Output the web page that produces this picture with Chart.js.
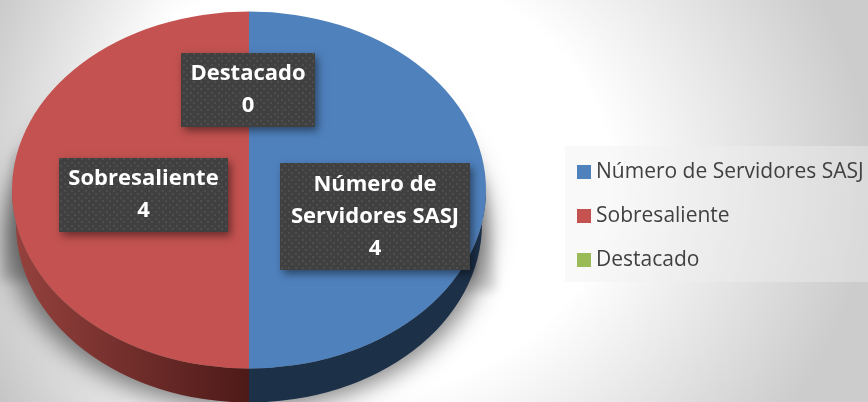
<!DOCTYPE html>
<html>
<head>
<meta charset="utf-8">
<script src="https://cdn.jsdelivr.net/npm/chart.js@4"></script>
<style>
    html, body { margin: 0; padding: 0; }
    body {
        width: 868px;
        height: 402px;
        overflow: hidden;
        position: relative;
        background:
            linear-gradient(to right, rgba(0, 0, 0, 0.1), rgba(0, 0, 0, 0) 170px),
            radial-gradient(ellipse 520px 430px at 350px 180px, #ffffff 50%, #cccccc 100%);
    }
    #wrap { position: absolute; left: 0; top: 0; width: 868px; height: 402px; }
    #legend {
        position: absolute;
        left: 565px;
        top: 146px;
        width: 303px;
        height: 136px;
        background: rgba(240, 240, 240, 0.4);
        font: 21px 'Open Sans', sans-serif;
        color: #404040;
    }
    .item { position: absolute; left: 12px; white-space: nowrap; line-height: 28px; }
    .box { display: inline-block; width: 14px; height: 14px; margin-right: 5px; vertical-align: -1px; }
</style>
</head>
<body>
<div id="wrap"><canvas id="chart" width="868" height="402"></canvas></div>
<div id="legend"></div>
<script>
const categories = ['Número de Servidores SASJ', 'Sobresaliente', 'Destacado'];
const values = [4, 4, 0];
const colors = ['#4f81bd', '#c35250', '#9bbb59'];
const wallColors = [['#1c3048', '#1c3048'], ['#4d1a18', '#96423e']];
const labelLines = [['Número de', 'Servidores SASJ'], ['Sobresaliente'], ['Destacado']];
const labelBoxes = [
    { x: 280, y: 163, w: 190, h: 107 },
    { x: 59, y: 158, w: 169, h: 74 },
    { x: 181, y: 53, w: 134, h: 74 }
];

const RX = 237;
const RY = 178.5;
const DEPTH = 34;

function dotPattern(ctx) {
    const c = document.createElement('canvas');
    c.width = 7;
    c.height = 7;
    const p = c.getContext('2d');
    p.fillStyle = '#404040';
    p.fillRect(0, 0, 7, 7);
    p.fillStyle = '#4e4e4e';
    p.fillRect(1, 1, 2, 2);
    p.fillRect(4, 4, 2, 2);
    return ctx.createPattern(c, 'repeat');
}

// soft shadow only, the shape itself is drawn off the canvas
function drawPieShadow(ctx, cx, cy) {
    const away = 2000;

    ctx.save();
    ctx.shadowColor = 'rgba(0, 0, 0, 0.5)';
    ctx.shadowBlur = 24;
    ctx.shadowOffsetX = away;
    ctx.fillStyle = '#000';
    ctx.beginPath();
    ctx.ellipse(cx - away - 2, cy + DEPTH + 6, RX + 4, RY, 0, 0, Math.PI * 2);
    ctx.fill();

    ctx.shadowColor = 'rgba(0, 0, 0, 0.16)';
    ctx.shadowBlur = 12;
    ctx.beginPath();
    ctx.moveTo(cx - away - RX + 4, cy - 40);
    ctx.lineTo(cx - away - RX - 12, cy + 90);
    ctx.lineTo(cx - away, cy + 90);
    ctx.closePath();
    ctx.moveTo(cx - away + RX - 2, cy - 10);
    ctx.lineTo(cx - away + RX + 10, cy + 100);
    ctx.lineTo(cx - away, cy + 100);
    ctx.closePath();
    ctx.fill();
    ctx.restore();
}

// flatten the pie and give it a side wall
const tiltPlugin = {
    id: 'tilt',
    beforeDatasetsDraw(chart) {
        const { ctx } = chart;
        const arcs = chart.getDatasetMeta(0).data;
        const { x: cx, y: cy } = arcs[0].getProps(['x', 'y']);

        drawPieShadow(ctx, cx, cy);

        arcs.forEach((arc, i) => {
            if (!values[i] || !wallColors[i])
                return;

            const { startAngle, endAngle } = arc.getProps(['startAngle', 'endAngle']);
            const from = Math.max(startAngle, 0);
            const to = Math.min(endAngle, Math.PI);

            const grad = ctx.createLinearGradient(cx, 0, i === 0 ? cx + RX : cx - RX, 0);
            grad.addColorStop(0, wallColors[i][0]);
            grad.addColorStop(1, wallColors[i][1]);

            ctx.fillStyle = grad;
            ctx.beginPath();
            ctx.ellipse(cx, cy, RX, RY, 0, from, to);
            ctx.ellipse(cx, cy + DEPTH, RX - 4, RY, 0, to, from, true);
            ctx.closePath();
            ctx.fill();
        });

        ctx.save();
        ctx.translate(cx, cy);
        ctx.scale(1, RY / RX);
        ctx.translate(-cx, -cy);
    },
    afterDatasetsDraw(chart) {
        chart.ctx.restore();
    }
};

const labelPlugin = {
    id: 'boxLabels',
    afterDraw(chart) {
        const { ctx } = chart;
        const pattern = dotPattern(ctx);

        labelBoxes.forEach((b, i) => {
            ctx.save();
            ctx.shadowColor = 'rgba(0, 0, 0, 0.45)';
            ctx.shadowBlur = 8;
            ctx.shadowOffsetX = 3;
            ctx.shadowOffsetY = 4;
            ctx.fillStyle = '#404040';
            ctx.fillRect(b.x, b.y, b.w, b.h);
            ctx.restore();

            ctx.fillStyle = pattern;
            ctx.fillRect(b.x, b.y, b.w, b.h);

            const lines = [...labelLines[i], String(values[i])];
            const lineH = 32;
            const top = b.y + b.h / 2 - (lines.length - 1) * lineH / 2;

            ctx.fillStyle = '#ffffff';
            ctx.font = "bold 22px 'Open Sans', sans-serif";
            ctx.textAlign = 'center';
            ctx.textBaseline = 'middle';
            lines.forEach((line, n) => ctx.fillText(line, b.x + b.w / 2, top + n * lineH));
        });
    }
};

const chart = new Chart(document.getElementById('chart').getContext('2d'), {
    type: 'pie',
    data: {
        labels: categories,
        datasets: [{
            data: values,
            backgroundColor: colors,
            borderWidth: 0,
            radius: RX,
            clip: false
        }]
    },
    options: {
        responsive: false,
        animation: false,
        layout: {
            padding: { left: 0, right: 370, top: 0, bottom: 22 }
        },
        plugins: {
            legend: { display: false },
            tooltip: { enabled: false }
        }
    },
    plugins: [tiltPlugin, labelPlugin]
});

const legendEl = document.getElementById('legend');
const legendTops = [10, 54, 98];
chart.data.labels.forEach((label, i) => {
    const item = document.createElement('div');
    item.className = 'item';
    item.style.top = legendTops[i] + 'px';

    const box = document.createElement('span');
    box.className = 'box';
    box.style.background = colors[i];

    item.appendChild(box);
    item.appendChild(document.createTextNode(label));
    legendEl.appendChild(item);
});
</script>
</body>
</html>
